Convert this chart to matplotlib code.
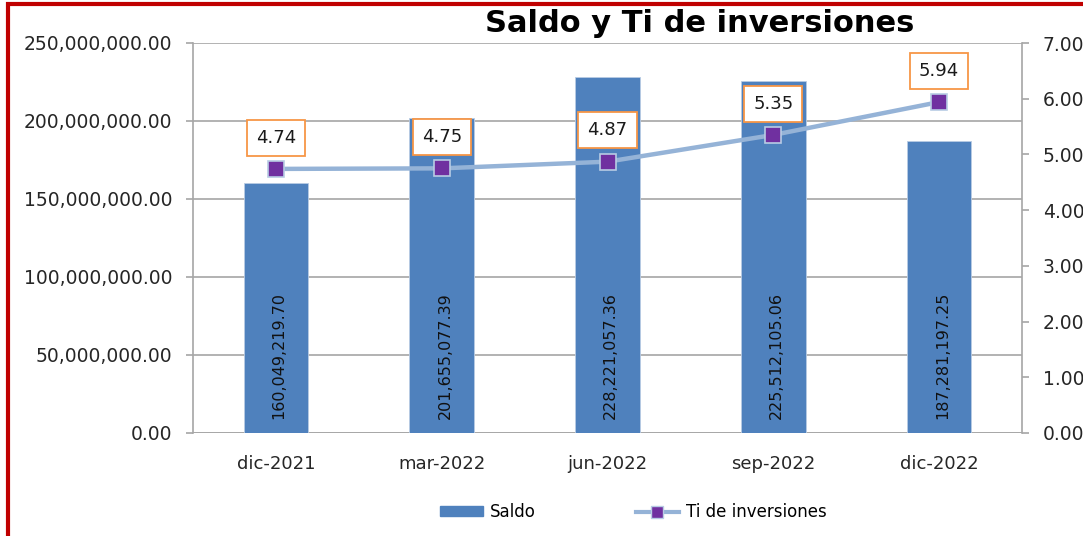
import matplotlib
matplotlib.use("Agg")
import matplotlib.pyplot as plt
from matplotlib.patches import Rectangle, Patch
from matplotlib.lines import Line2D
from matplotlib.ticker import FuncFormatter
import numpy as np

categories = ["dic-2021", "mar-2022", "jun-2022", "sep-2022", "dic-2022"]
saldo = [160049219.70, 201655077.39, 228221057.36, 225512105.06, 187281197.25]
ti = [4.74, 4.75, 4.87, 5.35, 5.94]
left_ticks = [0, 50e6, 100e6, 150e6, 200e6, 250e6]
right_ticks = [0, 1, 2, 3, 4, 5, 6, 7]

plt.rcParams['font.family'] = ['DejaVu Sans']

W, H = 1083, 536
fig = plt.figure(figsize=(W/100, H/100), dpi=100)
ax = fig.add_axes([193/W, 1-433/H, (1022-193)/W, (433-43)/H])
ax2 = ax.twinx()

x = np.arange(len(categories))
bar_color = "#4F81BD"
ax.bar(x, saldo, width=0.39, color=bar_color, edgecolor="#B8CCE4", linewidth=0.6, zorder=2)
ax.set_ylim(0, 250e6)
ax.set_xlim(-0.5, len(categories)-0.5)
ax.set_yticks(left_ticks)
ax.yaxis.set_major_formatter(FuncFormatter(lambda v, p: f"{v:,.2f}"))
ax.grid(axis='y', color="#A6A6A6", linewidth=1.2, zorder=0)
ax.set_axisbelow(True)
ax.set_xticks(x)
ax.set_xticklabels(categories)
for s in ["top", "right", "bottom"]:
    ax.spines[s].set_visible(False)
ax.spines["left"].set_color("#A6A6A6")
ax.spines["left"].set_linewidth(1.2)
ax.tick_params(axis='y', length=5, color="#A6A6A6", width=1.2, labelsize=13.5, labelcolor="#262626", pad=10)
ax.tick_params(axis='x', length=0, labelsize=13, labelcolor="#262626", pad=16)
ax.axhline(0, color="#A6A6A6", linewidth=1.2, zorder=1)

for xi, v in zip(x, saldo):
    ax.text(xi + 0.02, 9e6, f"{v:,.2f}", rotation=90, ha='center', va='bottom', fontsize=11.5,
            color="#111111", zorder=3)

ax2.plot(x, ti, color="#95B3D7", linewidth=3.2, marker='s', markersize=12,
         markerfacecolor="#7030A0", markeredgecolor="#B8CCE4", markeredgewidth=1.2, zorder=4,
         label="Ti de inversiones")
ax2.set_ylim(0, 7)
ax2.set_yticks(right_ticks)
ax2.yaxis.set_major_formatter(FuncFormatter(lambda v, p: f"{v:.2f}"))
for s in ["top", "left", "bottom"]:
    ax2.spines[s].set_visible(False)
ax2.spines["right"].set_color("#A6A6A6")
ax2.spines["right"].set_linewidth(1.2)
ax2.tick_params(axis='y', length=5, color="#A6A6A6", width=1.2, labelsize=13.5, labelcolor="#262626", pad=10)

for xi, v in zip(x, ti):
    ax2.annotate(f"{v:.2f}", (xi, v), xytext=(0, 22.5), textcoords='offset points',
                 ha='center', va='center', fontsize=13, color="#1a1a1a",
                 bbox=dict(boxstyle='square,pad=0.5', facecolor='white', edgecolor="#F79646", linewidth=1.3),
                 zorder=5)

fig.text(700/W, 1-23/H, "Saldo y Ti de inversiones", ha='center', va='center',
         fontsize=22, fontweight='bold', color="#000000")

handles = [Patch(facecolor=bar_color, edgecolor=bar_color, label="Saldo"),
           Line2D([0], [0], color="#95B3D7", linewidth=3, marker='s', markersize=9,
                  markerfacecolor="#7030A0", markeredgecolor="#B8CCE4", label="Ti de inversiones")]
fig.legend(handles=handles, loc='center', bbox_to_anchor=(633/W, 1-512/H), ncol=2, frameon=False,
           fontsize=12, handlelength=2.6, handleheight=0.5, columnspacing=6.0, handletextpad=0.4)

border = Rectangle((8/W, -0.1), 1.2, 1-4/H+0.1, transform=fig.transFigure, fill=False,
                   edgecolor="#C00000", linewidth=3, clip_on=False)
fig.patches.append(border)

fig.savefig("out.png", dpi=100)
